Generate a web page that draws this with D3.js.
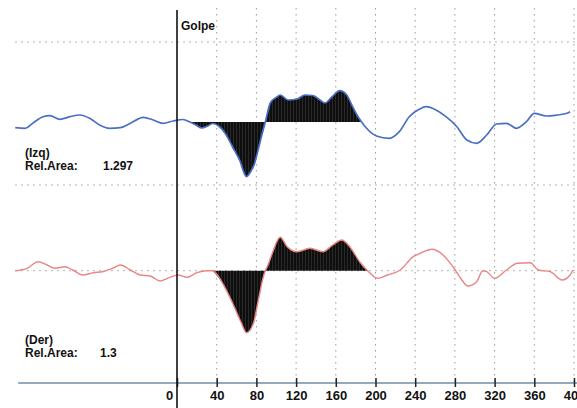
<!DOCTYPE html>
<html>
<head>
<meta charset="utf-8">
<script src="https://cdn.jsdelivr.net/npm/d3@7"></script>
<style>
  body { margin: 0; background: #fff; }
  svg { display: block; }
  text { font-family: "Liberation Sans", Arial, sans-serif; font-weight: bold; fill: #111; }
</style>
</head>
<body>
<div id="chart"></div>
<script>
(function() {
    'use strict';

    // time axis (ms relative to the hit) + tick labels
    const tickValues = [0, 40, 80, 120, 160, 200, 240, 280, 320, 360, 400];

    // left side trace (Izq)
    const izqTime = [-163, -153, -145, -135, -128, -118, -108, -98, -88, -78, -68, -57, -47, -34, -24, -14, -4, 6, 13, 19, 25, 31, 36, 42, 49, 56, 63, 70, 74, 78, 82, 86, 89, 94, 101, 104, 112, 121, 129, 137, 144, 149, 156, 164, 171, 177, 182, 186, 191, 201, 214, 224, 234, 244, 251, 261, 271, 282, 292, 302, 312, 322, 332, 342, 352, 360, 372, 383, 393, 396];
    const izqValue = [-5.7, -6.3, -1, 5.3, 6.3, 2.7, 5.3, 7, 3.7, -3, -6.3, -5.7, -1.3, 4.7, 2, -1.3, 1, 2.5, 0, -3, -6, -4, -1.5, -4, -12, -25, -38, -54.7, -50, -42, -27, -11, 0, 19, 25.3, 27, 22, 23, 27, 26.5, 22, 19, 25, 31.3, 27, 15.3, 6, 0, -6.3, -14, -16.3, -9.7, 5.3, 12.7, 15.3, 12, 5.3, -4.7, -18, -21.3, -13, -2, -1.3, -6.3, 0.3, 8.7, 6, 7, 8.7, 10.3];
    const izqWindow = [13, 186];
    const izqArea = "1.297";

    // right side trace (Der)
    const derTime = [-163, -151, -140, -131, -123, -113, -105, -95, -84, -75, -65, -57, -47, -37, -27, -17, -7, 1, 10, 20, 30, 36, 46, 56, 65, 70, 77, 82, 87, 89, 91, 96, 104, 111, 121, 134, 147, 157, 166, 174, 184, 192, 202, 212, 225, 238, 245, 257, 268, 278, 287, 293, 302, 308, 312, 320, 332, 343, 356, 364, 376, 388, 396, 399];
    const derValue = [0, 2.4, 9, 5.7, 2.4, 4, 0.7, -4.3, -2, -1, 2.4, 5.7, 0.7, -4.3, -5.3, -10.3, -6.6, -4.3, -6.6, -2, 0, 0, -12.6, -32.3, -52.6, -62, -52.6, -29.3, -6, 0, 4, 17.4, 33.4, 24, 19, 22.4, 19, 25.7, 30.7, 24, 9, 0, -7.6, -4.3, 0.7, 14, 17.4, 21.4, 15.7, 4, -9.3, -15.3, -11, 0, -1, -7.6, 0.7, 7.4, 8, 0.7, -1, -9.3, -4.3, 0.7];
    const derWindow = [36, 192];
    const derArea = "1.3";

    const width = 577;
    const height = 408;
    const axisY = 383;

    const svg = d3.select("#chart")
    .append("svg")
    .attr("width", width)
    .attr("height", height);

    // hatch for the filled area (dense vertical strokes)
    const pat = svg.append("defs")
    .append("pattern")
    .attr("id", "hatch")
    .attr("patternUnits", "userSpaceOnUse")
    .attr("width", 3)
    .attr("height", 4);
    pat.append("rect").attr("width", 3).attr("height", 4).attr("fill", "#0e0e0e");
    pat.append("rect").attr("x", 2).attr("width", 0.6).attr("height", 4).attr("fill", "#3a3a3a");

    const x = d3.scaleLinear()
    .domain([-165, 405])
    .range([177 - 165 * 0.9925, 177 + 405 * 0.9925]);

    // dotted grid
    const grid = svg.append("g")
    .attr("stroke", "#9a9a9a")
    .attr("stroke-width", 1)
    .attr("stroke-dasharray", "1.5,4.5");

    grid.selectAll("line.v")
    .data(tickValues.filter(d => d > 0))
    .enter()
    .append("line")
    .attr("x1", d => x(d))
    .attr("x2", d => x(d))
    .attr("y1", 8)
    .attr("y2", axisY);

    grid.selectAll("line.h")
    .data([42, 185, 270.7])
    .enter()
    .append("line")
    .attr("x1", x(-163))
    .attr("x2", width)
    .attr("y1", d => d)
    .attr("y2", d => d);

    //draws one panel: fill inside window + trace line
    function drawTrace(times, values, win, baseline, color, lineW) {
        const y = d3.scaleLinear()
        .domain([-60, 60])
        .range([baseline + 60, baseline - 60]);

        const pts = times.map((t, i) => ({t: t, v: values[i]}));
        const curve = d3.curveMonotoneX;

        const area = d3.area()
        .x(d => x(d.t))
        .y0(y(0))
        .y1(d => y(d.v))
        .curve(curve);

        svg.append("path")
        .datum(pts.filter(d => d.t >= win[0] && d.t <= win[1]))
        .attr("d", area)
        .attr("fill", "url(#hatch)");

        const line = d3.line()
        .x(d => x(d.t))
        .y(d => y(d.v))
        .curve(curve);

        svg.append("path")
        .datum(pts)
        .attr("d", line)
        .attr("fill", "none")
        .attr("stroke", color)
        .attr("stroke-width", lineW)
        .attr("stroke-linejoin", "round");
    }

    drawTrace(izqTime, izqValue, izqWindow, 122, "#4a6fc4", 1.7);
    drawTrace(derTime, derValue, derWindow, 270.7, "#e98585", 1.4);

    // bottom axis
    svg.append("line")
    .attr("x1", x(-160))
    .attr("x2", width)
    .attr("y1", axisY)
    .attr("y2", axisY)
    .attr("stroke", "#6f8ca6")
    .attr("stroke-width", 1.5);

    const axis = d3.axisBottom(x)
    .tickValues(tickValues)
    .tickSize(0)
    .tickPadding(0)
    .tickFormat(d3.format("d"));

    const ax = svg.append("g")
    .attr("transform", `translate(0,${axisY})`)
    .call(axis);
    ax.select(".domain").remove();
    ax.selectAll(".tick line")
    .attr("y1", -5)
    .attr("y2", 4)
    .attr("stroke", "#222")
    .attr("stroke-width", 1.5);
    ax.selectAll(".tick text")
    .attr("y", 17)
    .attr("dy", null)
    .attr("dx", d => d === 0 ? -8 : 0)
    .style("font-size", "13px")
    .style("font-family", "'Liberation Sans', Arial, sans-serif")
    .style("font-weight", "bold")
    .attr("fill", "#111");

    // hit marker line
    svg.append("line")
    .attr("x1", x(0))
    .attr("x2", x(0))
    .attr("y1", 10)
    .attr("y2", height)
    .attr("stroke", "#111")
    .attr("stroke-width", 1.6);

    // labels
    function label(txt, lx, ly) {
        svg.append("text")
        .attr("x", lx)
        .attr("y", ly)
        .style("font-size", "12px")
        .text(txt);
    }

    label("Golpe", x(0) + 4, 30);
    label("(Izq)", 25, 157);
    label("Rel.Area:", 25, 170);
    label(izqArea, 103, 170);
    label("(Der)", 25, 344);
    label("Rel.Area:", 25, 357);
    label(derArea, 100, 357);

})();
</script>
</body>
</html>
